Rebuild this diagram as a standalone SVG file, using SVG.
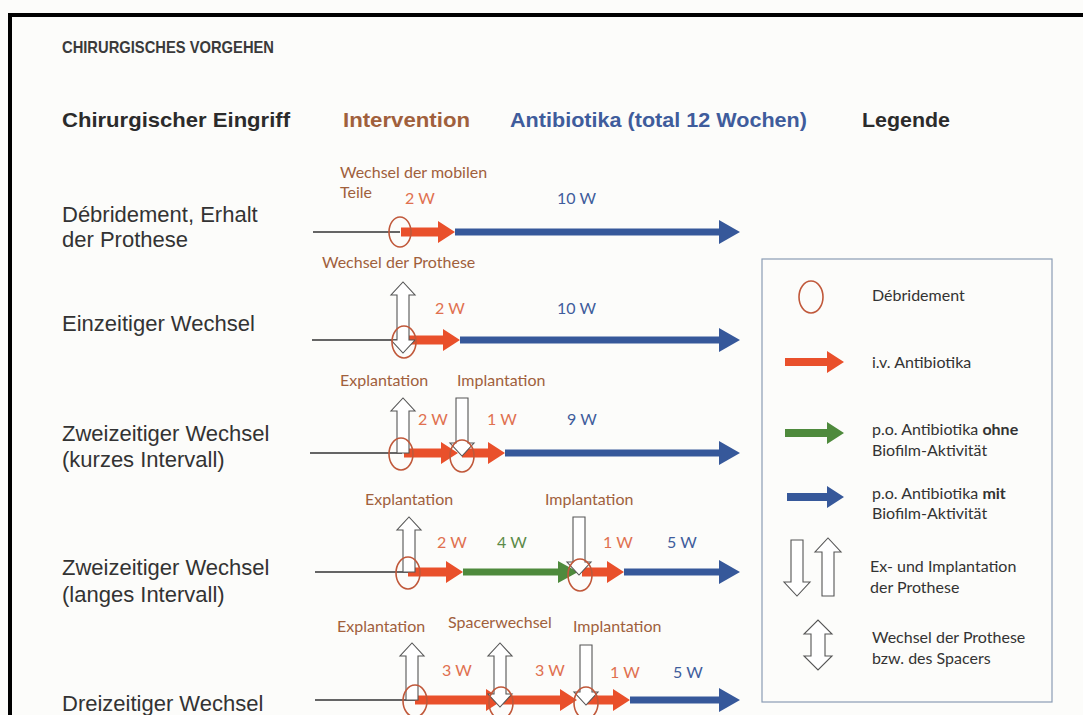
<svg xmlns="http://www.w3.org/2000/svg" width="1083" height="715" viewBox="0 0 1083 715">
<defs>
<style>
.hd{font-family:"Liberation Sans",Arial,sans-serif;font-weight:bold;font-size:21px}
.lbl{font-family:"Liberation Sans",Arial,sans-serif;font-size:22px;fill:#333}
.an{font-family:Lato,"Open Sans",sans-serif;font-size:16px}
.br{fill:#a0603c}
.rd{fill:#e0704f}
.bl{fill:#3f5c9c}
.gn{fill:#5b8a48}
.lg{font-family:Lato,"Open Sans",sans-serif;font-size:16px;fill:#333}
.red{fill:#e9502b}
.blue{fill:#36589a}
.green{fill:#4e8a3c}
.circ{fill:none;stroke:#c0583a;stroke-width:1.6}
.hollow{fill:#fff;stroke:#555;stroke-width:1.1}
.base{stroke:#333;stroke-width:1.6}
</style>
</defs>
<rect x="0" y="0" width="1083" height="715" fill="#fcfcfa"/>
<path d="M10,717 V15 H1085" fill="none" stroke="#000" stroke-width="4"/>

<g id="title">
<text x="62" y="53" class="hd" style="font-size:16.5px" fill="#3a3a3a" textLength="212" lengthAdjust="spacingAndGlyphs">CHIRURGISCHES VORGEHEN</text>
</g>
<g id="headers">
<text x="62" y="127" class="hd" fill="#2b2b2b" textLength="228" lengthAdjust="spacingAndGlyphs">Chirurgischer Eingriff</text>
<text x="343" y="127" class="hd" fill="#a0603c" textLength="127" lengthAdjust="spacingAndGlyphs">Intervention</text>
<text x="510" y="127" class="hd" fill="#3f5c9c" textLength="297" lengthAdjust="spacingAndGlyphs">Antibiotika (total 12 Wochen)</text>
<text x="862" y="127" class="hd" fill="#2b2b2b" textLength="88" lengthAdjust="spacingAndGlyphs">Legende</text>
</g>

<g id="row-labels">
<text x="62" y="222" class="lbl">Débridement, Erhalt</text>
<text x="62" y="247" class="lbl">der Prothese</text>
<text x="62" y="331" class="lbl">Einzeitiger Wechsel</text>
<text x="62" y="441" class="lbl">Zweizeitiger Wechsel</text>
<text x="62" y="467" class="lbl">(kurzes Intervall)</text>
<text x="62" y="575" class="lbl">Zweizeitiger Wechsel</text>
<text x="62" y="602" class="lbl">(langes Intervall)</text>
<text x="62" y="711" class="lbl">Dreizeitiger Wechsel</text>
</g>

<g id="connectors">
<line x1="313" y1="232" x2="400" y2="232" class="base"/>
<line x1="312" y1="340" x2="405" y2="340" class="base"/>
<line x1="310" y1="453" x2="402" y2="453" class="base"/>
<line x1="315" y1="572" x2="408" y2="572" class="base"/>
<line x1="315" y1="700" x2="415" y2="700" class="base"/>
</g>

<g id="row1">
<polygon class="red" points="401,227.5 438,227.5 438,221 455,232 438,243 438,236.5 401,236.5"/>
<polygon class="blue" points="455,228.5 719,228.5 719,220 740,232 719,244 719,235.5 455,235.5"/>
<ellipse class="circ" cx="400" cy="232" rx="11" ry="15"/>
<text x="340" y="178" class="an br">Wechsel der mobilen</text>
<text x="340" y="198" class="an br">Teile</text>
<text x="405" y="204" class="an rd">2 W</text>
<text x="557" y="204" class="an bl">10 W</text>
</g>

<g id="row2">
<polygon class="red" points="405,335.5 443,335.5 443,329 460,340 443,351 443,344.5 405,344.5"/>
<polygon class="blue" points="460,336.5 719,336.5 719,328 740,340 719,352 719,343.5 460,343.5"/>
<path class="hollow" d="M397,295 H391 L403,282 L415,295 H409 V340 H415 L403,353 L391,340 H397 Z"/>
<ellipse class="circ" cx="404" cy="342" rx="12" ry="16"/>
<text x="322" y="268" class="an br">Wechsel der Prothese</text>
<text x="435" y="314" class="an rd">2 W</text>
<text x="557" y="314" class="an bl">10 W</text>
</g>

<g id="row3">
<polygon class="red" points="404,448.5 441,448.5 441,442 458,453 441,464 441,457.5 404,457.5"/>
<polygon class="red" points="462,448.5 488,448.5 488,442 505,453 488,464 488,457.5 462,457.5"/>
<polygon class="blue" points="505,449.5 719,449.5 719,441 740,453 719,465 719,456.5 505,456.5"/>
<path class="hollow" d="M397,453 V411 H391 L403,398 L415,411 H409 V453 Z"/>
<path class="hollow" d="M456,398 H468 V443 H474 L462,456 L450,443 H456 Z"/>
<ellipse class="circ" cx="401" cy="454" rx="12" ry="16"/>
<ellipse class="circ" cx="462" cy="456" rx="12" ry="16"/>
<text x="340" y="386" class="an br">Explantation</text>
<text x="457" y="386" class="an br">Implantation</text>
<text x="418" y="425" class="an rd">2 W</text>
<text x="487" y="425" class="an rd">1 W</text>
<text x="567" y="425" class="an bl">9 W</text>
</g>

<g id="row4">
<polygon class="red" points="408,567.5 446,567.5 446,561 463,572 446,583 446,576.5 408,576.5"/>
<polygon class="green" points="463,568.5 558,568.5 558,561 578,572 558,583 558,575.5 463,575.5"/>
<polygon class="red" points="582,567.5 607,567.5 607,561 624,572 607,583 607,576.5 582,576.5"/>
<polygon class="blue" points="624,568.5 719,568.5 719,560 740,572 719,584 719,575.5 624,575.5"/>
<path class="hollow" d="M403,572 V530 H397 L409,517 L421,530 H415 V572 Z"/>
<path class="hollow" d="M573,517 H585 V562 H591 L579,575 L567,562 H573 Z"/>
<ellipse class="circ" cx="408" cy="573" rx="12" ry="16"/>
<ellipse class="circ" cx="580" cy="575" rx="12" ry="16"/>
<text x="365" y="505" class="an br">Explantation</text>
<text x="545" y="505" class="an br">Implantation</text>
<text x="437" y="548" class="an rd">2 W</text>
<text x="497" y="548" class="an gn">4 W</text>
<text x="603" y="548" class="an rd">1 W</text>
<text x="667" y="548" class="an bl">5 W</text>
</g>

<g id="row5">
<polygon class="red" points="415,695.5 486,695.5 486,689 503,700 486,711 486,704.5 415,704.5"/>
<polygon class="red" points="503,695.5 560,695.5 560,689 577,700 560,711 560,704.5 503,704.5"/>
<polygon class="red" points="587,695.5 613,695.5 613,689 630,700 613,711 613,704.5 587,704.5"/>
<polygon class="blue" points="630,696.5 719,696.5 719,688 740,700 719,712 719,703.5 630,703.5"/>
<path class="hollow" d="M406,700 V656 H400 L412,643 L424,656 H418 V700 Z"/>
<path class="hollow" d="M494,656 H488 L500,643 L512,656 H506 V694 H512 L500,707 L488,694 H494 Z"/>
<path class="hollow" d="M580,645 H592 V692 H598 L586,705 L574,692 H580 Z"/>
<ellipse class="circ" cx="415" cy="701" rx="12" ry="16"/>
<ellipse class="circ" cx="501" cy="703" rx="12" ry="16"/>
<ellipse class="circ" cx="586" cy="703" rx="12" ry="16"/>
<text x="337" y="632" class="an br">Explantation</text>
<text x="448" y="628" class="an br">Spacerwechsel</text>
<text x="573" y="632" class="an br">Implantation</text>
<text x="442" y="676" class="an rd">3 W</text>
<text x="535" y="676" class="an rd">3 W</text>
<text x="610" y="678" class="an rd">1 W</text>
<text x="673" y="678" class="an bl">5 W</text>
</g>

<g id="legend">
<rect x="762" y="259" width="290" height="443" fill="none" stroke="#8a9cb4" stroke-width="1.2"/>
<ellipse class="circ" cx="811" cy="297" rx="12" ry="16"/>
<text x="872" y="301" class="lg">Débridement</text>
<polygon class="red" points="785,358 827,358 827,351 844,362 827,373 827,366 785,366"/>
<text x="872" y="368" class="lg">i.v. Antibiotika</text>
<polygon class="green" points="785,429 827,429 827,422 844,433 827,444 827,437 785,437"/>
<text x="872" y="435" class="lg">p.o. Antibiotika <tspan font-weight="bold">ohne</tspan></text>
<text x="872" y="456" class="lg">Biofilm-Aktivität</text>
<polygon class="blue" points="787,493 827,493 827,486 844,497 827,508 827,501 787,501"/>
<text x="872" y="499" class="lg">p.o. Antibiotika <tspan font-weight="bold">mit</tspan></text>
<text x="872" y="519" class="lg">Biofilm-Aktivität</text>
<path class="hollow" d="M791,540 H803 V582 H810 L797,596 L784,582 H791 Z"/>
<path class="hollow" d="M822,596 V552 H815 L828,538 L841,552 H834 V596 Z"/>
<text x="870" y="572" class="lg">Ex- und Implantation</text>
<text x="870" y="593" class="lg">der Prothese</text>
<path class="hollow" d="M811,634 H804 L818,620 L832,634 H825 V656 H832 L818,670 L804,656 H811 Z"/>
<text x="872" y="643" class="lg">Wechsel der Prothese</text>
<text x="872" y="664" class="lg">bzw. des Spacers</text>
</g>
</svg>
